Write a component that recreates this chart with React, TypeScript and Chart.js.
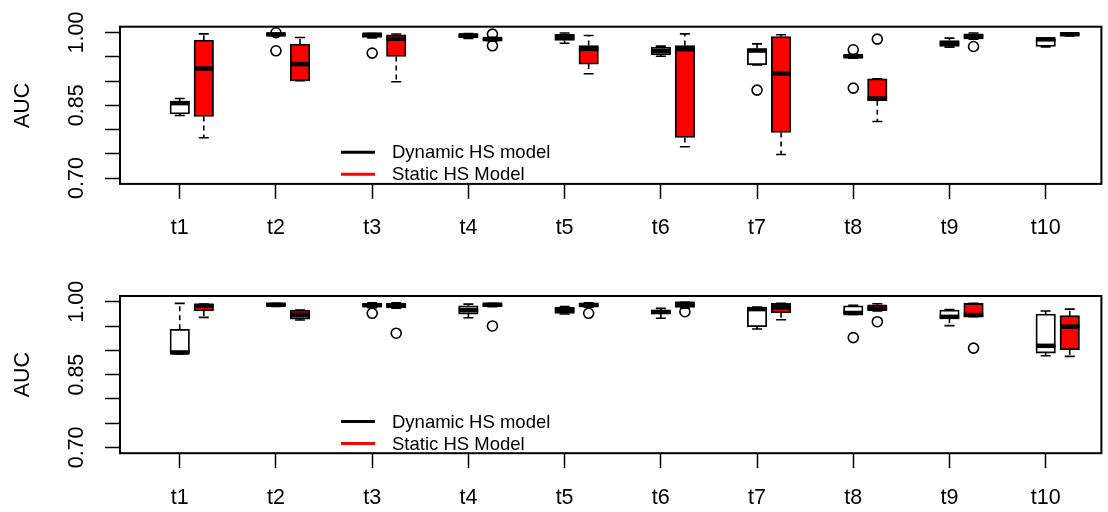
import React, { useEffect, useRef } from 'react';
import { Chart, registerables } from 'chart.js';

Chart.register(...registerables);

// ---------- data ----------
const categories = ['t1', 't2', 't3', 't4', 't5', 't6', 't7', 't8', 't9', 't10'];
const seriesNames = ['Dynamic HS model', 'Static HS Model'];
const yTicks = [0.7, 0.75, 0.8, 0.85, 0.9, 0.95, 1.0];
const yLabelled = [0.7, 0.85, 1.0];

// five-number summaries per category: [lower whisker, Q1, median, Q3, upper whisker]
const topDynamic = [
  [0.829, 0.832, 0.8545, 0.858, 0.864],
  [0.9935, 0.9945, 0.9962, 0.9975, 0.998],
  [0.989, 0.99, 0.9955, 0.9975, 0.998],
  [0.988, 0.989, 0.994, 0.997, 0.998],
  [0.978, 0.9835, 0.99, 0.9965, 0.999],
  [0.951, 0.954, 0.9623, 0.97, 0.972],
  [0.9334, 0.9334, 0.9629, 0.9664, 0.9767],
  [0.947, 0.948, 0.951, 0.9545, 0.955],
  [0.97, 0.9712, 0.977, 0.9835, 0.9885],
  [0.9705, 0.9712, 0.986, 0.987, 0.9875],
];
const topStatic = [
  [0.783, 0.8269, 0.9258, 0.9843, 0.9973],
  [0.9005, 0.9005, 0.9349, 0.9761, 0.9897],
  [0.8984, 0.9505, 0.987, 0.9953, 0.997],
  [0.982, 0.984, 0.9865, 0.988, 0.99],
  [0.9149, 0.9349, 0.9664, 0.9732, 0.9938],
  [0.7645, 0.7836, 0.9658, 0.9732, 0.9973],
  [0.7486, 0.7939, 0.9155, 0.9918, 0.9953],
  [0.8166, 0.8593, 0.864, 0.9046, 0.9046],
  [0.986, 0.988, 0.991, 0.9975, 0.999],
  [0.993, 0.9945, 0.9965, 0.998, 0.999],
];
const topDynamicOutliers = [[], [0.9995, 0.9623], [0.9576], [], [], [], [0.8813], [0.9644, 0.8854], [], []];
const topStaticOutliers = [[], [], [], [0.9967, 0.9726], [], [], [], [0.9864], [0.9712], []];

const bottomDynamic = [
  [0.8924, 0.8944, 0.8956, 0.9435, 0.9967],
  [0.9905, 0.992, 0.994, 0.9965, 0.997],
  [0.988, 0.99, 0.993, 0.9965, 0.998],
  [0.9673, 0.9748, 0.983, 0.9918, 0.9953],
  [0.975, 0.9763, 0.9825, 0.9885, 0.99],
  [0.966, 0.975, 0.979, 0.983, 0.9865],
  [0.9441, 0.9488, 0.985, 0.9885, 0.989],
  [0.974, 0.975, 0.977, 0.9918, 0.993],
  [0.951, 0.966, 0.969, 0.983, 0.984],
  [0.8889, 0.8944, 0.9093, 0.9748, 0.981],
];
const bottomStatic = [
  [0.968, 0.981, 0.9918, 0.9953, 0.9955],
  [0.9626, 0.964, 0.9734, 0.983, 0.983],
  [0.987, 0.988, 0.993, 0.997, 0.998],
  [0.99, 0.9905, 0.994, 0.9965, 0.997],
  [0.989, 0.99, 0.9935, 0.997, 0.998],
  [0.987, 0.9885, 0.996, 0.998, 0.999],
  [0.9632, 0.9775, 0.9885, 0.9967, 0.997],
  [0.981, 0.982, 0.986, 0.994, 0.996],
  [0.9693, 0.9693, 0.9728, 0.9967, 0.997],
  [0.8875, 0.9012, 0.9488, 0.9714, 0.985],
];
const bottomDynamicOutliers = [[], [], [0.9763], [], [], [], [], [0.9263], [], []];
const bottomStaticOutliers = [[], [], [0.9353], [0.9503], [0.9763], [0.9795], [], [0.959], [0.9046], []];

// ---------- style constants ----------
const FONT = "'Liberation Sans', Arial, Helvetica, sans-serif";
const AXIS_FONT_SIZE = 21.5;
const LEGEND_FONT_SIZE = 18.5;
const OFFSETS = [0, 0.25];
const FILLS = ['#FFFFFF', '#FF0000'];
const LEGEND_COLORS = ['#000000', '#FF0000'];
const BOX_PX = 19.5;
const CAP_PX = 10;
const X_MIN = 0.379;
const X_MAX = 10.579;
const Y_MIN = 0.688;
const Y_MAX = 1.012;
const CANVAS_W = 1108;
const CANVAS_H = 256;
const PLOT_H = 157.2;

type PanelProps = {
  dyn: number[][];
  stat: number[][];
  dynOut: number[][];
  statOut: number[][];
  padTop: number;
};

function BoxPanel({ dyn, stat, dynOut, statOut, padTop }: PanelProps) {
  const ref = useRef<HTMLCanvasElement | null>(null);

  useEffect(() => {
    if (!ref.current) return;
    const groups = [dyn, stat];
    const outs = [dynOut, statOut];

    const barSets = groups.map((g, s) => ({
      type: 'bar' as const,
      label: seriesNames[s],
      data: categories.map((_, i) => ({ x: i + 1 + OFFSETS[s], y: [g[i][1], g[i][3]] })),
      backgroundColor: FILLS[s],
      borderColor: '#000000',
      borderWidth: 1.8,
      borderSkipped: false,
      barThickness: BOX_PX,
      grouped: false,
    }));
    const outSets = outs.map((o, s) => {
      const pts: { x: number; y: number }[] = [];
      o.forEach((vals, i) => vals.forEach((v) => pts.push({ x: i + 1 + OFFSETS[s], y: v })));
      return {
        type: 'scatter' as const,
        label: seriesNames[s] + ' outliers',
        data: pts,
        pointRadius: 5,
        pointHoverRadius: 5,
        pointBorderWidth: 1.6,
        pointBorderColor: '#000000',
        pointBackgroundColor: 'rgba(0,0,0,0)',
        showLine: false,
      };
    });

    const boxExtras = {
      id: 'boxExtras',
      afterDatasetsDraw(chart: any) {
        const { ctx, scales } = chart;
        const xs = scales.x;
        const ys = scales.y;
        ctx.save();
        ctx.strokeStyle = '#000000';
        groups.forEach((g, s) => {
          g.forEach((b, i) => {
            const [lo, q1, med, q3, hi] = b;
            const cx = xs.getPixelForValue(i + 1 + OFFSETS[s]);
            const pLo = ys.getPixelForValue(lo);
            const pQ1 = ys.getPixelForValue(q1);
            const pMed = ys.getPixelForValue(med);
            const pQ3 = ys.getPixelForValue(q3);
            const pHi = ys.getPixelForValue(hi);
            ctx.lineWidth = 1.6;
            ctx.lineCap = 'butt';
            ctx.setLineDash([5, 4]);
            ctx.beginPath();
            if (hi > q3) {
              ctx.moveTo(cx, pQ3);
              ctx.lineTo(cx, pHi);
            }
            if (lo < q1) {
              ctx.moveTo(cx, pQ1);
              ctx.lineTo(cx, pLo);
            }
            ctx.stroke();
            ctx.setLineDash([]);
            ctx.beginPath();
            ctx.moveTo(cx - CAP_PX / 2, pHi);
            ctx.lineTo(cx + CAP_PX / 2, pHi);
            ctx.moveTo(cx - CAP_PX / 2, pLo);
            ctx.lineTo(cx + CAP_PX / 2, pLo);
            ctx.stroke();
            ctx.lineWidth = 4.5;
            ctx.beginPath();
            ctx.moveTo(cx - BOX_PX / 2, pMed);
            ctx.lineTo(cx + BOX_PX / 2, pMed);
            ctx.stroke();
          });
        });
        ctx.restore();
      },
      afterDraw(chart: any) {
        const { ctx, chartArea } = chart;
        ctx.save();
        ctx.strokeStyle = '#000000';
        ctx.lineWidth = 2;
        ctx.strokeRect(chartArea.left, chartArea.top, chartArea.right - chartArea.left, chartArea.bottom - chartArea.top);
        // legend (no box, as in base R bty="n")
        const rows = [125.6, 147.6];
        ctx.font = `${LEGEND_FONT_SIZE}px ${FONT}`;
        ctx.textBaseline = 'middle';
        ctx.textAlign = 'left';
        rows.forEach((dy, k) => {
          const yy = chartArea.top + dy;
          ctx.strokeStyle = LEGEND_COLORS[k];
          ctx.lineWidth = 3;
          ctx.beginPath();
          ctx.moveTo(341, yy);
          ctx.lineTo(375, yy);
          ctx.stroke();
          ctx.fillStyle = '#000000';
          ctx.fillText(seriesNames[k], 392, yy + 1);
        });
        ctx.restore();
      },
    };

    const xAxisHeight = CANVAS_H - padTop - PLOT_H;

    const chart = new Chart(ref.current, {
      type: 'bar',
      data: { datasets: [...barSets, ...outSets] as any },
      options: {
        animation: false,
        responsive: false,
        devicePixelRatio: 1,
        layout: { padding: { left: 0, right: 2, top: padTop, bottom: 0 } },
        plugins: {
          legend: { display: false },
          tooltip: { enabled: false },
        },
        scales: {
          x: {
            type: 'linear',
            min: X_MIN,
            max: X_MAX,
            offset: false,
            afterBuildTicks: (axis: any) => {
              axis.ticks = categories.map((_, i) => ({ value: i + 1 }));
            },
            afterFit: (axis: any) => {
              axis.height = xAxisHeight;
            },
            grid: {
              offset: false,
              drawOnChartArea: false,
              drawTicks: true,
              tickLength: 15,
              tickColor: '#000000',
              tickWidth: 1.5,
            },
            border: { display: false },
            ticks: {
              autoSkip: false,
              maxRotation: 0,
              minRotation: 0,
              padding: 16.5,
              color: '#000000',
              font: { family: FONT, size: AXIS_FONT_SIZE },
              callback: (v: any) => {
                const idx = Math.round(Number(v)) - 1;
                return categories[idx] ?? '';
              },
            },
          },
          y: {
            type: 'linear',
            min: Y_MIN,
            max: Y_MAX,
            afterBuildTicks: (axis: any) => {
              axis.ticks = yTicks.map((v) => ({ value: v }));
            },
            afterFit: (axis: any) => {
              axis.width = 120;
            },
            grid: {
              drawOnChartArea: false,
              drawTicks: true,
              tickLength: 15,
              tickColor: '#000000',
              tickWidth: 1.5,
            },
            border: { display: false },
            title: {
              display: true,
              text: 'AUC',
              color: '#000000',
              font: { family: FONT, size: AXIS_FONT_SIZE },
              padding: { top: 10, bottom: 0 },
            },
            ticks: {
              autoSkip: false,
              minRotation: 90,
              maxRotation: 90,
              crossAlign: 'center',
              padding: 6.6,
              color: '#000000',
              font: { family: FONT, size: AXIS_FONT_SIZE },
              callback: (v: any) => {
                const n = Number(v);
                return yLabelled.some((l) => Math.abs(l - n) < 1e-9) ? n.toFixed(2) : '';
              },
            },
          },
        },
      } as any,
      plugins: [boxExtras],
    });

    return () => chart.destroy();
  }, [dyn, stat, dynOut, statOut, padTop]);

  return <canvas ref={ref} width={CANVAS_W} height={CANVAS_H} style={{ display: 'block', width: CANVAS_W, height: CANVAS_H }} />;
}

export default function App() {
  return (
    <div style={{ position: 'absolute', left: 0, top: 0, width: CANVAS_W, height: CANVAS_H * 2, background: '#FFFFFF' }}>
      <BoxPanel dyn={topDynamic} stat={topStatic} dynOut={topDynamicOutliers} statOut={topStaticOutliers} padTop={26.7} />
      <BoxPanel dyn={bottomDynamic} stat={bottomStatic} dynOut={bottomDynamicOutliers} statOut={bottomStaticOutliers} padTop={40} />
    </div>
  );
}
